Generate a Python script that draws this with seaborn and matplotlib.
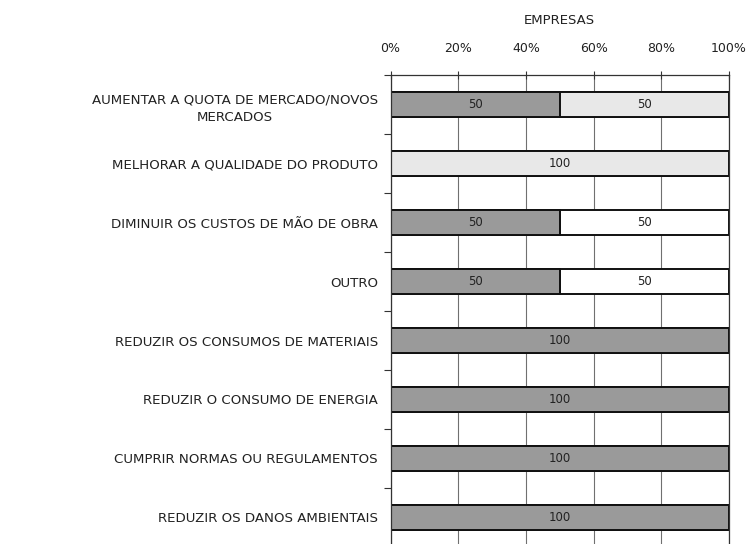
import numpy as np
import pandas as pd
import matplotlib
matplotlib.use("Agg")
import matplotlib.pyplot as plt
import seaborn as sns

categorias = [
    "AUMENTAR A QUOTA DE MERCADO/NOVOS\nMERCADOS",
    "MELHORAR A QUALIDADE DO PRODUTO",
    "DIMINUIR OS CUSTOS DE MÃO DE OBRA",
    "OUTRO",
    "REDUZIR OS CONSUMOS DE MATERIAIS",
    "REDUZIR O CONSUMO DE ENERGIA",
    "CUMPRIR NORMAS OU REGULAMENTOS",
    "REDUZIR OS DANOS AMBIENTAIS",
]
serie_escura = [50, 0, 50, 50, 100, 100, 100, 100]
serie_clara = [50, 100, 0, 0, 0, 0, 0, 0]
serie_branca = [0, 0, 50, 50, 0, 0, 0, 0]
ticks_x = [0, 20, 40, 60, 80, 100]
ticks_x_rotulos = ["0%", "20%", "40%", "60%", "80%", "100%"]

sns.set_theme(style="white")
plt.rcParams["font.family"] = ["DejaVu Sans"]

df = pd.DataFrame({
    "categoria": categorias,
    "escura": serie_escura,
    "clara": serie_clara,
    "branca": serie_branca,
})
df["ate_clara"] = df["escura"] + df["clara"]
df["total"] = df["ate_clara"] + df["branca"]

fig = plt.figure(figsize=(7.5, 5.44), dpi=100)
ax = fig.add_axes([0.5207, 0.0, 0.4513, 0.862])

# vertical gridlines behind the bars
for t in ticks_x:
    ax.axvline(t, color="#707070", lw=0.8, zorder=0)

largura = 0.42
camadas = [("total", "#ffffff"), ("ate_clara", "#e8e8e8"), ("escura", "#9a9a9a")]
for col, cor in camadas:
    sns.barplot(data=df, x=col, y="categoria", orient="h", color=cor,
                width=largura, edgecolor="#111111", linewidth=1.4,
                saturation=1, ax=ax, zorder=2)

# value labels centred inside each segment
for i in range(len(categorias)):
    esquerda = 0
    for v in (serie_escura[i], serie_clara[i], serie_branca[i]):
        if v > 0:
            ax.text(esquerda + v / 2, i, f"{v}", ha="center", va="center",
                    fontsize=8.5, color="#222222", zorder=3)
        esquerda += v

ax.set_xlim(0, 100)
ax.set_ylim(7.45, -0.5)
ax.xaxis.tick_top()
ax.set_xticks(ticks_x)
ax.set_xticklabels(ticks_x_rotulos, fontsize=9, color="#222222")
ax.tick_params(axis="x", direction="inout", length=6, width=0.8,
               color="#333333", pad=11.4, top=True, bottom=False)
ax.xaxis.set_label_position("top")
ax.set_xlabel("EMPRESAS", fontsize=9.5, color="#222222", labelpad=13)
ax.set_ylabel("")

ax.set_yticks(range(len(categorias)))
ax.set_yticklabels(categorias, fontsize=9.6, color="#222222",
                   multialignment="center", linespacing=1.45)
ax.set_yticks(np.arange(len(categorias)) - 0.5, minor=True)
ax.tick_params(axis="y", which="major", length=0, pad=9)
ax.tick_params(axis="y", which="minor", left=True, length=5, width=0.8,
               color="#333333", direction="out")

for lado in ("top", "left", "right"):
    ax.spines[lado].set_visible(True)
    ax.spines[lado].set_color("#333333")
    ax.spines[lado].set_linewidth(0.9)
ax.spines["bottom"].set_visible(False)

fig.savefig("out.png", dpi=100, facecolor="white")
